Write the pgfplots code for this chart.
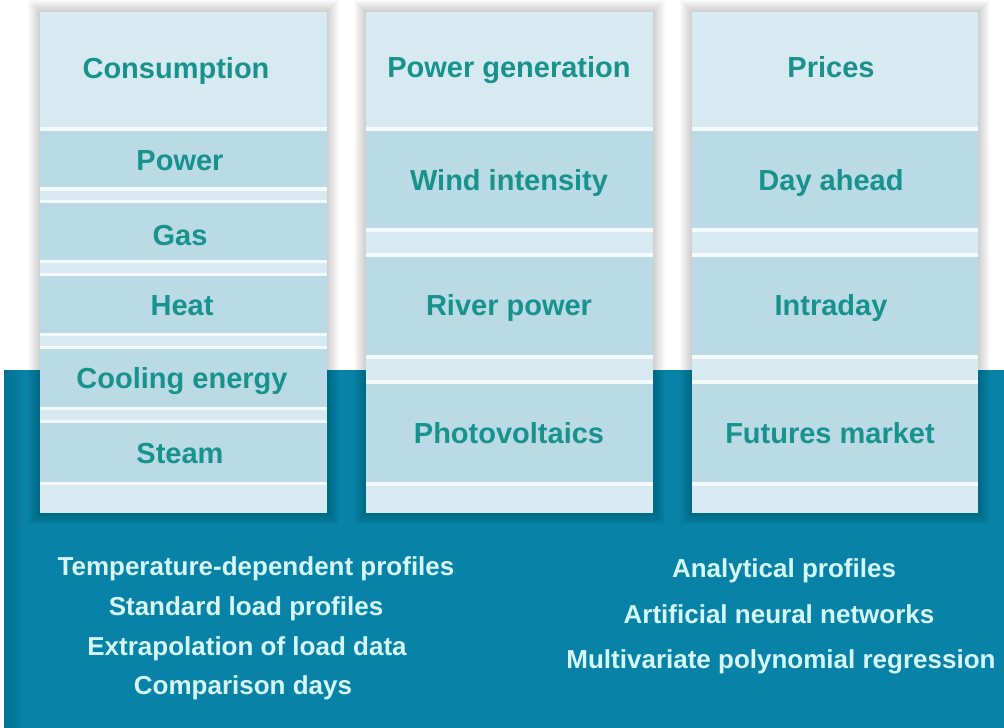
\documentclass[border=0pt]{standalone}
\usepackage{pgfplots}
\pgfplotsset{compat=1.18}
\usepackage{fontspec}
\setmainfont{Liberation Sans}
\definecolor{tealbg}{RGB}{8,131,167}
\definecolor{tealdark}{RGB}{4,112,146}
\definecolor{lightcell}{RGB}{216,234,241}
\definecolor{darkcell}{RGB}{186,219,229}
\definecolor{sepline}{RGB}{244,250,252}
\definecolor{celltext}{RGB}{24,146,140}
\definecolor{bottomtext}{RGB}{214,247,250}
\begin{document}
\begin{tikzpicture}
\begin{axis}[
  width=1004pt, height=728pt, scale only axis,
  xmin=0, xmax=1004, ymin=0, ymax=728, y dir=reverse,
  hide axis,
]
% background
\fill[white] (axis cs:0,0) rectangle (axis cs:1004,728);
\fill[tealbg] (axis cs:4,370) rectangle (axis cs:1004,728);
\fill[left color=tealdark, right color=tealbg] (axis cs:4,370) rectangle (axis cs:24,728);
% soft shadows around the three columns
\pgfplotsinvokeforeach{1,...,12}{
  \fill[black,opacity=0.016] (axis cs:{40-#1},{12-#1}) rectangle (axis cs:{327+#1},{513+#1});
  \fill[black,opacity=0.016] (axis cs:{366-#1},{12-#1}) rectangle (axis cs:{653+#1},{513+#1});
  \fill[black,opacity=0.016] (axis cs:{692-#1},{12-#1}) rectangle (axis cs:{978+#1},{513+#1});
}
% ---------- column 1 ----------
\fill[lightcell] (axis cs:40,12) rectangle (axis cs:327,513);
\fill[sepline] (axis cs:40,127) rectangle (axis cs:327,131);
\fill[darkcell] (axis cs:40,131) rectangle (axis cs:327,187);
\fill[sepline] (axis cs:40,187) rectangle (axis cs:327,191);
\fill[sepline] (axis cs:40,200) rectangle (axis cs:327,203);
\fill[darkcell] (axis cs:40,203) rectangle (axis cs:327,260);
\fill[sepline] (axis cs:40,260) rectangle (axis cs:327,263);
\fill[sepline] (axis cs:40,273) rectangle (axis cs:327,276);
\fill[darkcell] (axis cs:40,276) rectangle (axis cs:327,333);
\fill[sepline] (axis cs:40,333) rectangle (axis cs:327,336);
\fill[sepline] (axis cs:40,346) rectangle (axis cs:327,349);
\fill[darkcell] (axis cs:40,349) rectangle (axis cs:327,407);
\fill[sepline] (axis cs:40,407) rectangle (axis cs:327,410);
\fill[sepline] (axis cs:40,420) rectangle (axis cs:327,423);
\fill[darkcell] (axis cs:40,423) rectangle (axis cs:327,482);
\fill[sepline] (axis cs:40,482) rectangle (axis cs:327,485);
% ---------- column 2 ----------
\fill[lightcell] (axis cs:366,12) rectangle (axis cs:653,513);
\fill[sepline] (axis cs:366,127) rectangle (axis cs:653,131);
\fill[darkcell] (axis cs:366,131) rectangle (axis cs:653,228);
\fill[sepline] (axis cs:366,228) rectangle (axis cs:653,232);
\fill[sepline] (axis cs:366,253) rectangle (axis cs:653,257);
\fill[darkcell] (axis cs:366,257) rectangle (axis cs:653,355);
\fill[sepline] (axis cs:366,355) rectangle (axis cs:653,359);
\fill[sepline] (axis cs:366,380) rectangle (axis cs:653,384);
\fill[darkcell] (axis cs:366,384) rectangle (axis cs:653,482);
\fill[sepline] (axis cs:366,482) rectangle (axis cs:653,486);
% ---------- column 3 ----------
\fill[lightcell] (axis cs:692,12) rectangle (axis cs:978,513);
\fill[sepline] (axis cs:692,127) rectangle (axis cs:978,131);
\fill[darkcell] (axis cs:692,131) rectangle (axis cs:978,228);
\fill[sepline] (axis cs:692,228) rectangle (axis cs:978,232);
\fill[sepline] (axis cs:692,253) rectangle (axis cs:978,257);
\fill[darkcell] (axis cs:692,257) rectangle (axis cs:978,355);
\fill[sepline] (axis cs:692,355) rectangle (axis cs:978,359);
\fill[sepline] (axis cs:692,380) rectangle (axis cs:978,384);
\fill[darkcell] (axis cs:692,384) rectangle (axis cs:978,482);
\fill[sepline] (axis cs:692,482) rectangle (axis cs:978,486);
% ---------- cell texts ----------
\begin{scope}[every node/.style={anchor=base, inner sep=0pt, text=celltext, font=\fontsize{29}{34}\selectfont\bfseries}]
\node at (axis cs:176,78) {Consumption};
\node at (axis cs:180,170) {Power};
\node at (axis cs:180,245) {Gas};
\node at (axis cs:182,315) {Heat};
\node at (axis cs:182,388) {Cooling energy};
\node at (axis cs:180,463) {Steam};
\node at (axis cs:509,77) {Power generation};
\node at (axis cs:509,190) {Wind intensity};
\node at (axis cs:509,315) {River power};
\node at (axis cs:509,443) {Photovoltaics};
\node at (axis cs:831,77) {Prices};
\node at (axis cs:831,190) {Day ahead};
\node at (axis cs:831,315) {Intraday};
\node at (axis cs:830,443) {Futures market};
\end{scope}
% ---------- bottom texts ----------
\begin{scope}[every node/.style={anchor=base, inner sep=0pt, text=bottomtext, font=\fontsize{26}{30}\selectfont\bfseries}]
\node at (axis cs:256,575) {Temperature-dependent profiles};
\node at (axis cs:246,615) {Standard load profiles};
\node at (axis cs:247,655) {Extrapolation of load data};
\node at (axis cs:243,694) {Comparison days};
\node at (axis cs:784,577) {Analytical profiles};
\node at (axis cs:779,623) {Artificial neural networks};
\node at (axis cs:781,668) {Multivariate polynomial regression};
\end{scope}
\end{axis}
\end{tikzpicture}
\end{document}
